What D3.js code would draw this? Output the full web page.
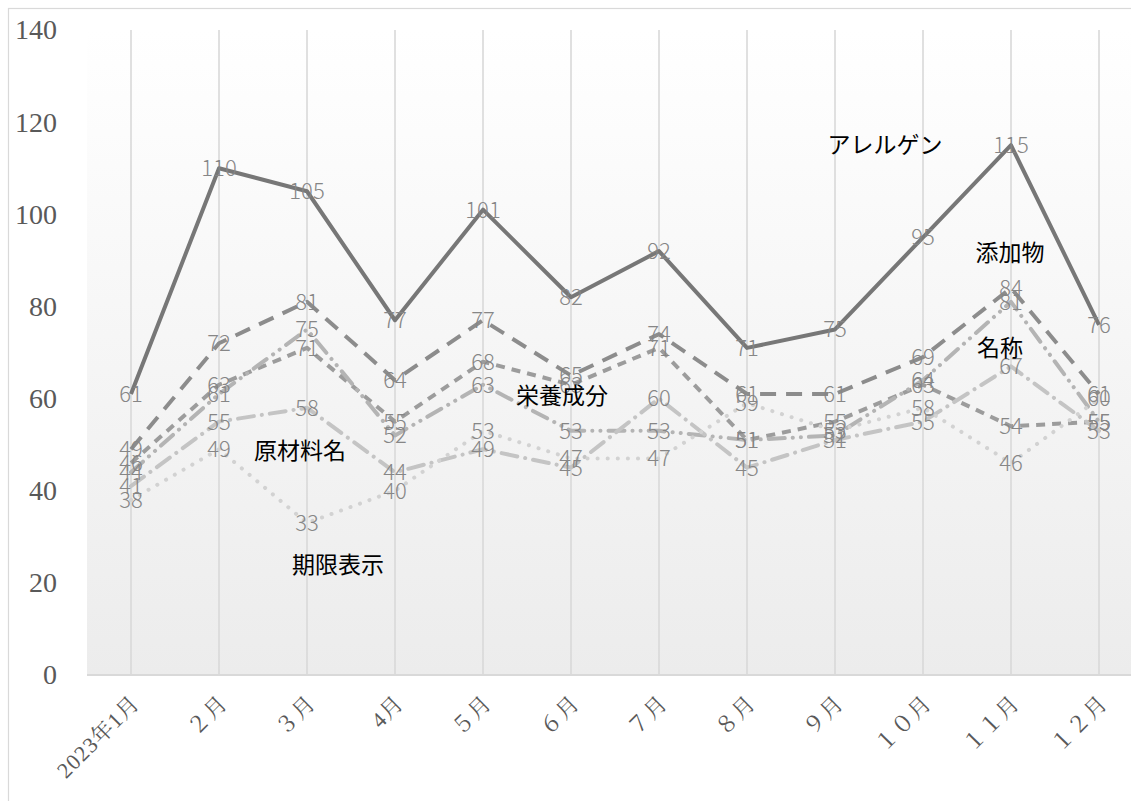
<!DOCTYPE html>
<html>
<head>
<meta charset="utf-8">
<script src="https://cdn.jsdelivr.net/npm/d3@7"></script>
<style>
  html, body { margin: 0; padding: 0; background: #ffffff; }
  svg { display: block; }
</style>
</head>
<body>
<svg id="chart" width="1131" height="801"></svg>
<script>
// Monthly counts per labelling category, 2023
const months = ["2023年1月", "２月", "３月", "4月", "５月", "６月", "７月", "８月", "９月", "１０月", "１１月", "１２月"];
const allergen   = [61, 110, 105, 77, 101, 82, 92, 71, 75, 95, 115, 76];   // アレルゲン
const additives  = [49, 72, 81, 64, 77, 65, 74, 61, 61, 69, 84, 61];       // 添加物
const nutrition  = [46, 63, 71, 55, 68, 63, 71, 51, 55, 63, 54, 55];       // 栄養成分
const productName = [44, 61, 75, 52, 63, 53, 53, 51, 52, 64, 81, 55];      // 名称
const ingredients = [41, 55, 58, 44, 49, 45, 60, 45, 51, 55, 67, 53];      // 原材料名
const dateMarking = [38, 49, 33, 40, 53, 47, 47, 59, 53, 58, 46, 60];      // 期限表示
const seriesNames = ["アレルゲン", "添加物", "栄養成分", "名称", "原材料名", "期限表示"];
const yTicks = [0, 20, 40, 60, 80, 100, 120, 140];

const seriesValues = [allergen, additives, nutrition, productName, ingredients, dateMarking];

// line appearance per series (same order as seriesNames)
const styles = [
  { color: "#777777", dash: null },
  { color: "#8c8c8c", dash: "16,10" },
  { color: "#9c9c9c", dash: "9,7" },
  { color: "#b4b4b4", dash: "16,8,0.1,8,0.1,8" },
  { color: "#c4c4c4", dash: "16,8,0.1,8" },
  { color: "#d2d2d2", dash: "0.1,10" }
];

const svg = d3.select("#chart");
const W = 1131, H = 801;
const plot = { left: 87, right: 1145, top: 30, bottom: 675 };

const x = d3.scalePoint().domain(months).range([131, 1099]);
const y = d3.scaleLinear().domain([0, 140]).range([plot.bottom, plot.top]);

// background gradient of the plot area
const defs = svg.append("defs");
const grad = defs.append("linearGradient").attr("id", "plotBg")
  .attr("x1", 0).attr("y1", 0).attr("x2", 0).attr("y2", 1);
grad.append("stop").attr("offset", "0%").attr("stop-color", "#ffffff");
grad.append("stop").attr("offset", "100%").attr("stop-color", "#ececec");

// chart frame
svg.append("rect").attr("x", 8.5).attr("y", 8.5).attr("width", W + 20).attr("height", H + 20)
  .attr("fill", "#ffffff").attr("stroke", "#d9d9d9").attr("stroke-width", 1.2);

svg.append("rect")
  .attr("x", plot.left).attr("y", plot.top)
  .attr("width", plot.right - plot.left).attr("height", plot.bottom - plot.top)
  .attr("fill", "url(#plotBg)");

// vertical gridlines at each category
svg.append("g").selectAll("line").data(months).join("line")
  .attr("x1", d => x(d)).attr("x2", d => x(d))
  .attr("y1", plot.top).attr("y2", plot.bottom)
  .attr("stroke", "#d9d9d9").attr("stroke-width", 1.6);

// category axis
const xAxis = svg.append("g").attr("transform", `translate(0,${plot.bottom})`)
  .call(d3.axisBottom(x).tickSize(0).tickPadding(0));
xAxis.select(".domain").remove();
svg.append("line").attr("x1", plot.left).attr("x2", plot.right)
  .attr("y1", plot.bottom).attr("y2", plot.bottom)
  .attr("stroke", "#d9d9d9").attr("stroke-width", 2);
xAxis.selectAll(".tick text")
  .attr("transform", "translate(4,24) rotate(-45)")
  .attr("text-anchor", "end")
  .attr("dy", "0.35em")
  .attr("x", 0).attr("y", 0)
  .attr("fill", "#595959")
  .style("font-family", "'Liberation Serif', 'Noto Serif CJK JP', 'Noto Sans CJK JP', serif")
  .style("font-size", "22px")
  .style("letter-spacing", "1px");

// value axis
const yAxis = svg.append("g").attr("transform", `translate(57,0)`)
  .call(d3.axisLeft(y).tickValues(yTicks).tickSize(0).tickPadding(0));
yAxis.select(".domain").remove();
yAxis.selectAll(".tick text")
  .attr("fill", "#595959")
  .style("font-family", "'Liberation Serif', 'DejaVu Serif', serif")
  .style("font-size", "28px");

// series lines
const line = d3.line().x((d, i) => x(months[i])).y(d => y(d));
svg.append("g").selectAll("path").data(seriesValues).join("path")
  .attr("d", d => line(d))
  .attr("fill", "none")
  .attr("stroke", (d, i) => styles[i].color)
  .attr("stroke-width", 4)
  .attr("stroke-dasharray", (d, i) => styles[i].dash)
  .attr("stroke-linecap", (d, i) => i >= 3 ? "round" : "butt")
  .attr("stroke-linejoin", "round");

// value labels centred on each point
const labelGroup = svg.append("g");
seriesValues.forEach(vals => {
  labelGroup.selectAll(null).data(vals).join("text")
    .attr("x", (d, i) => x(months[i]))
    .attr("y", d => y(d))
    .attr("text-anchor", "middle")
    .attr("dy", "0.36em")
    .attr("fill", "#868686")
    .style("font-family", "'Noto Sans CJK JP', 'Noto Sans', sans-serif")
    .style("font-weight", 300)
    .style("font-size", "22px")
    .text(d => d);
});

// series name annotations, placed beside a chosen point of each series
const nameMarks = [
  { s: 0, m: 10, dx: -126, dy: 0 },
  { s: 1, m: 10, dx: -1, dy: -35 },
  { s: 2, m: 5, dx: -9, dy: 11 },
  { s: 3, m: 10, dx: -11, dy: 46 },
  { s: 4, m: 2, dx: -7, dy: 43 },
  { s: 5, m: 2, dx: 31, dy: 42 }
];
svg.append("g").selectAll("text").data(nameMarks).join("text")
  .attr("x", d => x(months[d.m]) + d.dx)
  .attr("y", d => y(seriesValues[d.s][d.m]) + d.dy)
  .attr("text-anchor", "middle")
  .attr("dy", "0.36em")
  .attr("fill", "#000000")
  .style("font-family", "'Noto Sans CJK JP', sans-serif")
  .style("font-size", "23px")
  .text(d => seriesNames[d.s]);
</script>
</body>
</html>
